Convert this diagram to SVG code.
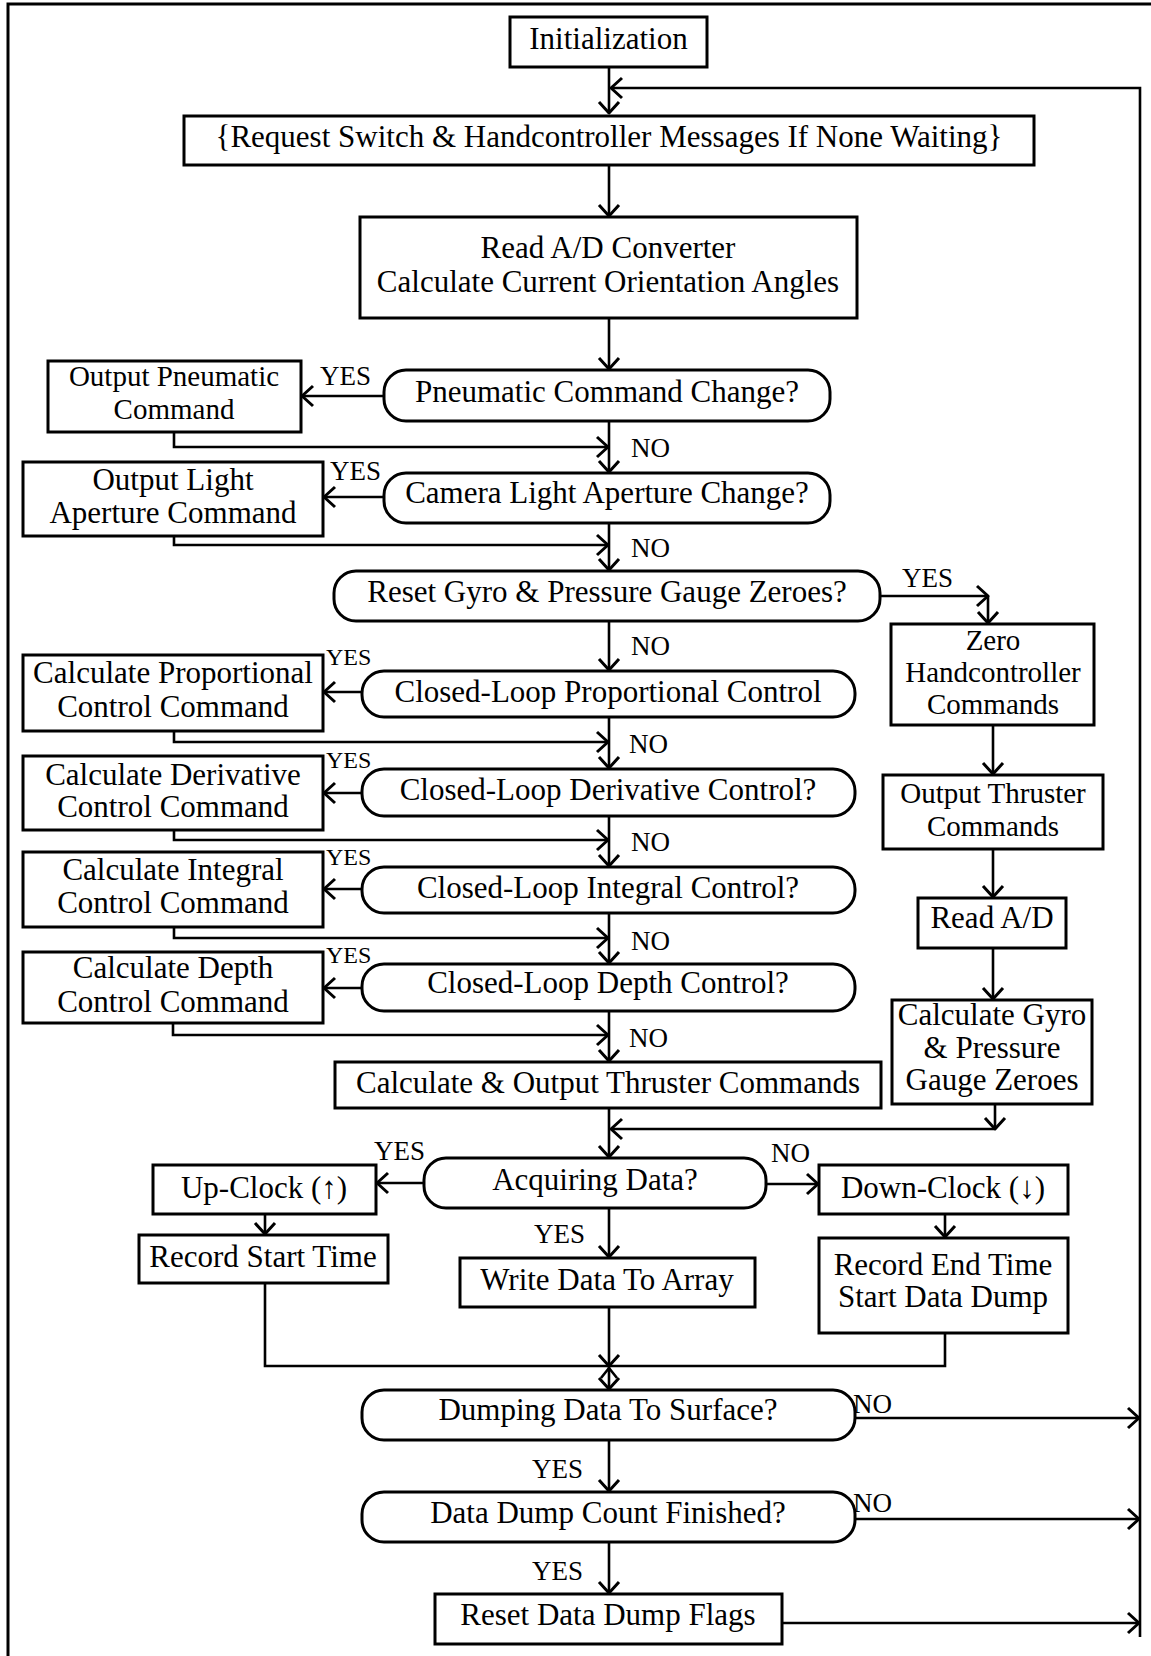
<svg xmlns="http://www.w3.org/2000/svg" width="1151" height="1656" viewBox="0 0 1151 1656">
<defs>
<style>
.n rect{fill:#fff;stroke:#000;stroke-width:3}
.n text,.l{font-family:"Liberation Serif","Times New Roman",serif;font-size:31px;fill:#000;text-anchor:middle}
.n text.s{font-size:29px}
.l{font-size:27px;text-anchor:start}
#c path{fill:none;stroke:#000;stroke-width:2.6}
.f{fill:none;stroke:#000;stroke-width:3}
</style>
<marker id="a" viewBox="-14 -13 16 26" refX="0" refY="0" markerWidth="16" markerHeight="26" markerUnits="userSpaceOnUse" orient="auto">
<path d="M-11,-10 L0,0 L-11,10" fill="none" stroke="#000" stroke-width="3" stroke-linejoin="round"/>
</marker>
</defs>
<rect width="1151" height="1656" fill="#fff"/>
<path class="f" d="M8,1656 V4 H1151"/>

<g id="c">
<path d="M609,67 V113" marker-end="url(#a)"/>
<path d="M1140,1637 V88 H611" marker-end="url(#a)"/>
<path d="M609,165 V216" marker-end="url(#a)"/>
<path d="M609,318 V369" marker-end="url(#a)"/>
<path d="M384,396 H302" marker-end="url(#a)"/>
<path d="M174,432 V447 H608" marker-end="url(#a)"/>
<path d="M609,421 V472" marker-end="url(#a)"/>
<path d="M384,497 H324" marker-end="url(#a)"/>
<path d="M174,536 V545 H608" marker-end="url(#a)"/>
<path d="M609,523 V570" marker-end="url(#a)"/>
<path d="M880,596 H988" marker-end="url(#a)"/>
<path d="M988,596 V623" marker-end="url(#a)"/>
<path d="M609,621 V670" marker-end="url(#a)"/>
<path d="M362,692 H324" marker-end="url(#a)"/>
<path d="M174,731 V742 H608" marker-end="url(#a)"/>
<path d="M609,717 V768" marker-end="url(#a)"/>
<path d="M362,793 H324" marker-end="url(#a)"/>
<path d="M174,830 V840 H608" marker-end="url(#a)"/>
<path d="M609,816 V866" marker-end="url(#a)"/>
<path d="M362,889 H324" marker-end="url(#a)"/>
<path d="M174,927 V938 H608" marker-end="url(#a)"/>
<path d="M609,913 V963" marker-end="url(#a)"/>
<path d="M362,988 H324" marker-end="url(#a)"/>
<path d="M173,1023 V1035 H608" marker-end="url(#a)"/>
<path d="M609,1011 V1061" marker-end="url(#a)"/>
<path d="M993,725 V774" marker-end="url(#a)"/>
<path d="M993,849 V897" marker-end="url(#a)"/>
<path d="M993,948 V999" marker-end="url(#a)"/>
<path d="M995,1104 V1129" marker-end="url(#a)"/>
<path d="M995,1129 H611" marker-end="url(#a)"/>
<path d="M609,1108 V1157" marker-end="url(#a)"/>
<path d="M424,1183 H377" marker-end="url(#a)"/>
<path d="M766,1184 H818" marker-end="url(#a)"/>
<path d="M265,1214 V1234" marker-end="url(#a)"/>
<path d="M945,1214 V1237" marker-end="url(#a)"/>
<path d="M609,1208 V1257" marker-end="url(#a)"/>
<path d="M265,1283 V1366 H945 V1333"/>
<path d="M609,1307 V1366" marker-end="url(#a)"/>
<path d="M601,1378 L609,1368 L617,1378"/>
<path d="M609,1366 V1389" marker-end="url(#a)"/>
<path d="M855,1418 H1139" marker-end="url(#a)"/>
<path d="M609,1440 V1491" marker-end="url(#a)"/>
<path d="M855,1519 H1139" marker-end="url(#a)"/>
<path d="M609,1542 V1593" marker-end="url(#a)"/>
<path d="M782,1623 H1139" marker-end="url(#a)"/>
</g>

<g id="labels">
<text class="l" x="320" y="385">YES</text>
<text class="l" x="631" y="457">NO</text>
<text class="l" x="330" y="480">YES</text>
<text class="l" x="631" y="557">NO</text>
<text class="l" x="902" y="587">YES</text>
<text class="l" x="631" y="655">NO</text>
<text class="l" x="326" y="665" style="font-size:24px">YES</text>
<text class="l" x="629" y="753">NO</text>
<text class="l" x="326" y="768" style="font-size:24px">YES</text>
<text class="l" x="631" y="851">NO</text>
<text class="l" x="326" y="865" style="font-size:24px">YES</text>
<text class="l" x="631" y="950">NO</text>
<text class="l" x="326" y="963" style="font-size:24px">YES</text>
<text class="l" x="629" y="1047">NO</text>
<text class="l" x="374" y="1160">YES</text>
<text class="l" x="771" y="1162">NO</text>
<text class="l" x="534" y="1243">YES</text>
<text class="l" x="853" y="1413">NO</text>
<text class="l" x="532" y="1478">YES</text>
<text class="l" x="853" y="1512">NO</text>
<text class="l" x="532" y="1580">YES</text>
</g>

<g id="init" class="n"><rect x="510" y="17" width="197" height="50"/><text x="608.5" y="49">Initialization</text></g>
<g id="request" class="n"><rect x="184" y="116" width="850" height="49"/><text x="609" y="147">{Request Switch &amp; Handcontroller Messages If None Waiting}</text></g>
<g id="readAD" class="n"><rect x="360" y="217" width="497" height="101"/><text x="608" y="258">Read A/D Converter</text><text x="608" y="292">Calculate Current Orientation Angles</text></g>
<g id="pneumatic" class="n"><rect x="384" y="370" width="446" height="51" rx="22"/><text x="607" y="402">Pneumatic Command Change?</text></g>
<g id="outPneumatic" class="n"><rect x="48" y="361" width="253" height="71"/><text class="s" x="174" y="386">Output Pneumatic</text><text class="s" x="174" y="419">Command</text></g>
<g id="camera" class="n"><rect x="384" y="473" width="446" height="50" rx="22"/><text x="607" y="503">Camera Light Aperture Change?</text></g>
<g id="outLight" class="n"><rect x="23" y="462" width="300" height="74"/><text x="173" y="490">Output Light</text><text x="173" y="523">Aperture Command</text></g>
<g id="resetGyro" class="n"><rect x="334" y="571" width="546" height="50" rx="22"/><text x="607" y="602">Reset Gyro &amp; Pressure Gauge Zeroes?</text></g>
<g id="zero" class="n"><rect x="891" y="624" width="203" height="101"/><text class="s" x="993" y="650">Zero</text><text class="s" x="993" y="682">Handcontroller</text><text class="s" x="993" y="714">Commands</text></g>
<g id="propDec" class="n"><rect x="362" y="671" width="493" height="46" rx="22"/><text x="608" y="702">Closed-Loop Proportional Control</text></g>
<g id="propBox" class="n"><rect x="23" y="655" width="300" height="76"/><text x="173" y="683">Calculate Proportional</text><text x="173" y="717">Control Command</text></g>
<g id="derivDec" class="n"><rect x="362" y="769" width="493" height="47" rx="22"/><text x="608" y="800">Closed-Loop Derivative Control?</text></g>
<g id="derivBox" class="n"><rect x="23" y="756" width="300" height="74"/><text x="173" y="785">Calculate Derivative</text><text x="173" y="817">Control Command</text></g>
<g id="intDec" class="n"><rect x="362" y="867" width="493" height="46" rx="22"/><text x="608" y="898">Closed-Loop Integral Control?</text></g>
<g id="intBox" class="n"><rect x="23" y="852" width="300" height="75"/><text x="173" y="880">Calculate Integral</text><text x="173" y="913">Control Command</text></g>
<g id="depthDec" class="n"><rect x="362" y="964" width="493" height="47" rx="22"/><text x="608" y="993">Closed-Loop Depth Control?</text></g>
<g id="depthBox" class="n"><rect x="23" y="952" width="300" height="71"/><text x="173" y="978">Calculate Depth</text><text x="173" y="1012">Control Command</text></g>
<g id="outThruster" class="n"><rect x="883" y="775" width="220" height="74"/><text class="s" x="993" y="803">Output Thruster</text><text class="s" x="993" y="836">Commands</text></g>
<g id="readAD2" class="n"><rect x="918" y="898" width="148" height="50"/><text x="992" y="928">Read A/D</text></g>
<g id="calcGyro" class="n"><rect x="892" y="1000" width="200" height="104"/><text x="992" y="1025">Calculate Gyro</text><text x="992" y="1058">&amp; Pressure</text><text x="992" y="1090">Gauge Zeroes</text></g>
<g id="calcOut" class="n"><rect x="335" y="1062" width="546" height="46"/><text x="608" y="1093">Calculate &amp; Output Thruster Commands</text></g>
<g id="acquiring" class="n"><rect x="424" y="1158" width="342" height="50" rx="22"/><text x="595" y="1190">Acquiring Data?</text></g>
<g id="upClock" class="n"><rect x="153" y="1165" width="223" height="49"/><text x="264" y="1198">Up-Clock (↑)</text></g>
<g id="downClock" class="n"><rect x="819" y="1165" width="249" height="49"/><text x="943" y="1198">Down-Clock (↓)</text></g>
<g id="recStart" class="n"><rect x="139" y="1235" width="249" height="48"/><text x="263" y="1267">Record Start Time</text></g>
<g id="writeData" class="n"><rect x="460" y="1258" width="295" height="49"/><text x="607" y="1290">Write Data To Array</text></g>
<g id="recEnd" class="n"><rect x="819" y="1238" width="249" height="95"/><text x="943" y="1275">Record End Time</text><text x="943" y="1307">Start Data Dump</text></g>
<g id="dumping" class="n"><rect x="362" y="1390" width="493" height="50" rx="22"/><text x="608" y="1420">Dumping Data To Surface?</text></g>
<g id="dumpCount" class="n"><rect x="362" y="1492" width="493" height="50" rx="22"/><text x="608" y="1523">Data Dump Count Finished?</text></g>
<g id="resetFlags" class="n"><rect x="435" y="1594" width="347" height="50"/><text x="608" y="1625">Reset Data Dump Flags</text></g>
</svg>
